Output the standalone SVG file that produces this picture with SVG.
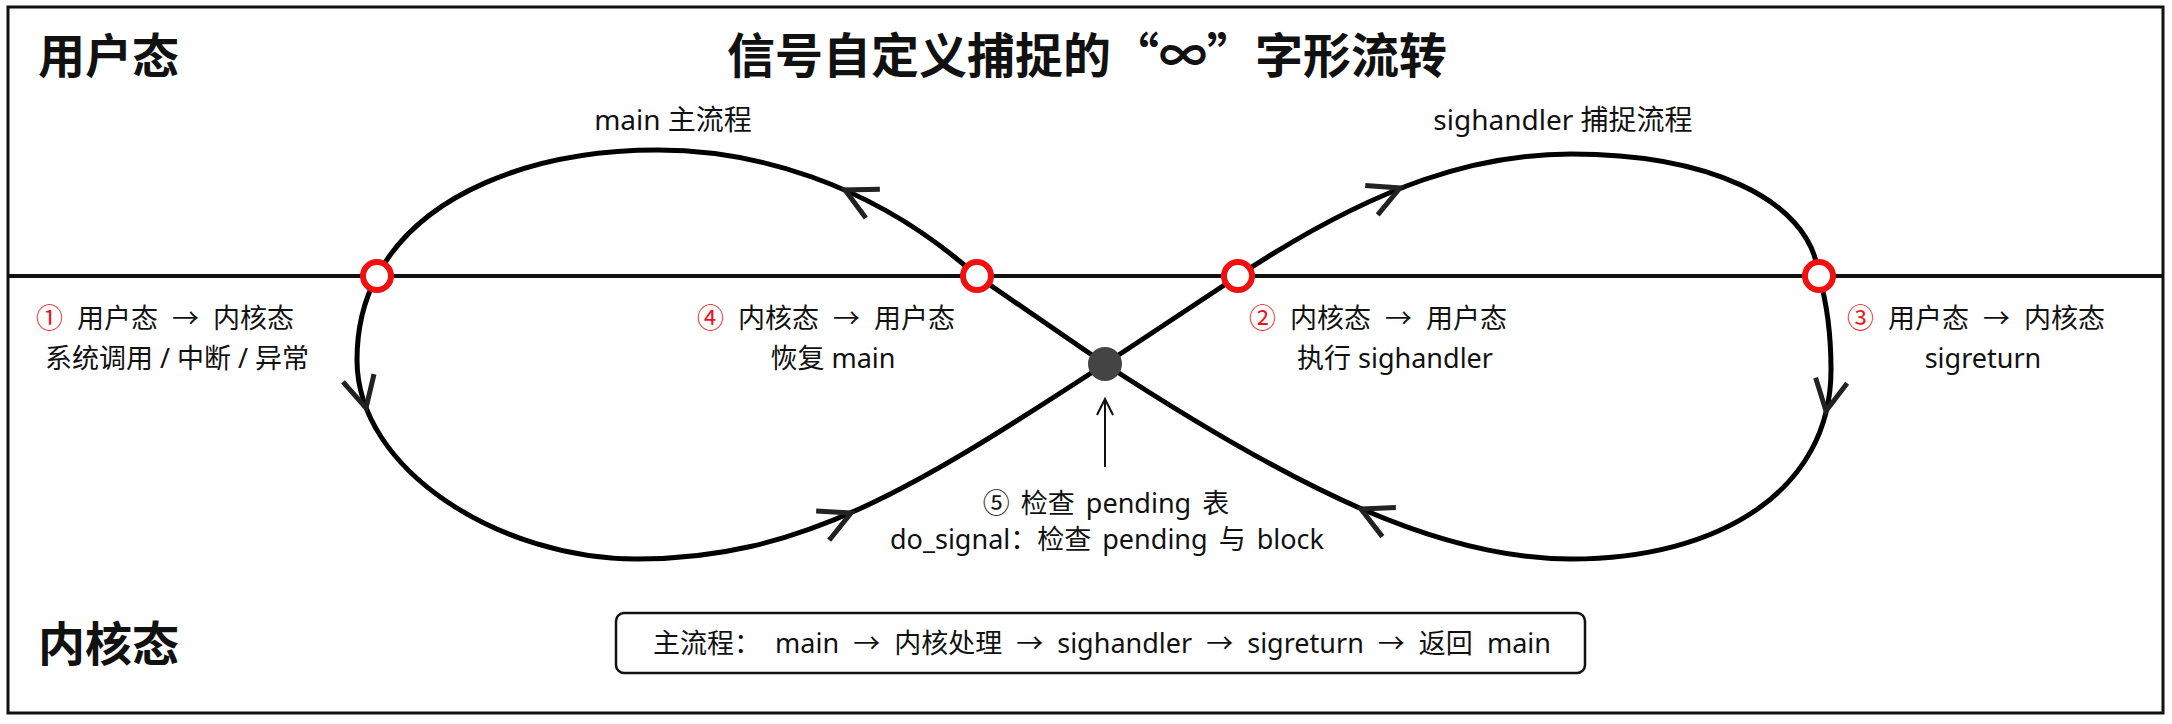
<svg xmlns="http://www.w3.org/2000/svg" width="2172" height="724" viewBox="0 0 2172 724">
  <style>
    .zone { font-family: "Noto Sans CJK SC", "Noto Sans", sans-serif; font-weight: 700; font-size: 47px; fill: #111; }
    .title { font-family: "Noto Sans CJK SC", "Noto Sans", sans-serif; font-weight: 700; font-size: 48px; fill: #111; text-anchor: middle; }
    .lbl { font-family: "Noto Sans", "Noto Sans CJK SC", sans-serif; font-size: 27px; fill: #111; text-anchor: middle; }
    .ws { word-spacing: 7px; }
    .ws5 { word-spacing: 4px; }
    .loop { font-family: "Noto Sans", "Noto Sans CJK SC", sans-serif; font-size: 28px; fill: #111; text-anchor: middle; }
    .num { fill: #e8141c; }
    .curve { fill: none; stroke: #000; stroke-width: 5; stroke-linejoin: round; }
    .chev { fill: none; stroke: #222; stroke-width: 5; stroke-linecap: butt; stroke-linejoin: miter; }
    .port { fill: #fff; stroke: #f01010; stroke-width: 6; }
  </style>
  <defs>
    <path id="chev" class="chev" d="M -31,-16 L 0,0 L -31,16"/>
  </defs>

  <rect x="0" y="0" width="2172" height="724" fill="#fff"/>

  <g id="frame">
    <rect x="8" y="7" width="2155" height="706" fill="none" stroke="#111" stroke-width="3"/>
    <line x1="8" y1="276" x2="2163" y2="276" stroke="#111" stroke-width="4"/>
  </g>

  <g id="zone-user"><text class="zone" x="38" y="73">用户态</text></g>
  <g id="zone-kernel"><text class="zone" x="38" y="661">内核态</text></g>
  <g id="title"><text class="title" x="1087" y="73">信号自定义捕捉的“∞”字形流转</text></g>

  <g id="connectors">
    <path class="curve" d="M 1105,364 L 977,276 C 870,180 750,150 658,150 C 530,150 420,195 377,276 C 364,300 357,330 357,360 C 357,470 500,559 637,559 C 800,559 912,490 1105,364 L 1238,276 C 1380,182 1480,154 1571,154 C 1700,154 1810,195 1819,276 C 1826,300 1831,335 1831,370 C 1831,490 1720,559 1571,559 C 1440,559 1298,490 1105,364 Z"/>
    <use href="#chev" transform="translate(845,190) rotate(206)"/>
    <use href="#chev" transform="translate(366,408) rotate(76)"/>
    <use href="#chev" transform="translate(851,513) rotate(-24)"/>
    <use href="#chev" transform="translate(1400,188) rotate(-23)"/>
    <use href="#chev" transform="translate(1826,411) rotate(100)"/>
    <use href="#chev" transform="translate(1361,509) rotate(205)"/>
    <path d="M 1105,467 L 1105,399 M 1097,415 L 1105,399 L 1113,415" fill="none" stroke="#111" stroke-width="2"/>
  </g>

  <g id="loop-main"><text class="loop" x="673" y="130">main 主流程</text></g>
  <g id="loop-handler"><text class="loop" x="1563" y="130">sighandler 捕捉流程</text></g>

  <g id="node-1">
    <circle class="port" cx="377" cy="276" r="14"/>
    <text class="lbl ws" x="165" y="328"><tspan class="num">①</tspan> 用户态 → 内核态</text>
    <text class="lbl" x="177" y="368">系统调用 / 中断 / 异常</text>
  </g>
  <g id="node-4">
    <circle class="port" cx="977" cy="276" r="14"/>
    <text class="lbl ws" x="826" y="328"><tspan class="num">④</tspan> 内核态 → 用户态</text>
    <text class="lbl" x="833" y="368">恢复 main</text>
  </g>
  <g id="node-2">
    <circle class="port" cx="1238" cy="276" r="14"/>
    <text class="lbl ws" x="1378" y="328"><tspan class="num">②</tspan> 内核态 → 用户态</text>
    <text class="lbl" x="1395" y="368">执行 sighandler</text>
  </g>
  <g id="node-3">
    <circle class="port" cx="1819" cy="276" r="14"/>
    <text class="lbl ws" x="1976" y="328"><tspan class="num">③</tspan> 用户态 → 内核态</text>
    <text class="lbl" x="1983" y="368">sigreturn</text>
  </g>
  <g id="node-5">
    <circle cx="1105" cy="364" r="17" fill="#444"/>
    <text class="lbl ws5" x="1106" y="513">⑤ 检查 pending 表</text>
    <text class="lbl ws5" x="1107" y="549">do_signal：检查 pending 与 block</text>
  </g>

  <g id="summary">
    <rect x="616" y="613" width="969" height="60" rx="8" fill="#fff" stroke="#111" stroke-width="2.5"/>
    <text class="lbl ws" x="1102" y="653">主流程：  main → 内核处理 → sighandler → sigreturn → 返回 main</text>
  </g>
</svg>
